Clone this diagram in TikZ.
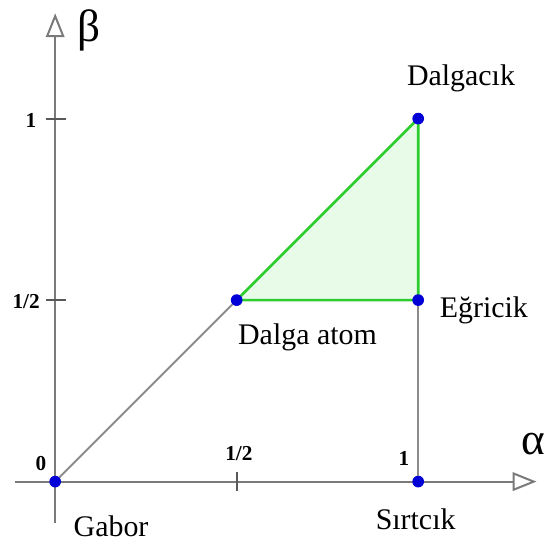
\documentclass[tikz,border=0pt]{standalone}
\usepackage{fontspec}
\setmainfont{Liberation Serif}
\usetikzlibrary{arrows.meta}

\definecolor{edgegreen}{RGB}{45,205,45}
\definecolor{fillgreen}{RGB}{232,250,232}
\definecolor{dotblue}{RGB}{0,0,215}

\begin{document}
\begin{tikzpicture}[
  x=9.6cm, y=9.6cm,
  axisline/.style={black!52, line width=1.5pt, -{Triangle[open, length=18pt, width=14pt, fill=white]}},
  tickmark/.style={black!65, line width=1.5pt},
  link/.style={black!45, line width=1.5pt},
  region/.style={draw=edgegreen, fill=fillgreen, line width=2pt, line join=round},
  num/.style={font=\fontsize{16}{19}\selectfont\bfseries},
  greek/.style={font=\fontsize{34}{40}\selectfont},
  lbl/.style={font=\fontsize{22.5}{27}\selectfont, anchor=base}
]
  \useasboundingbox (-0.152,-0.1664) rectangle (1.3576,1.3267);

  % Axes
  \draw[axisline] (-0.112,0) -- (1.326,0);
  \draw[axisline] (0,-0.113) -- (0,1.290);
  \node[greek] (alpha) at (1.318,0.104) {α};
  \node[greek] (beta) at (0.093,1.244) {β};

  % Ticks and their values
  \draw[tickmark] (-0.025,0.5) -- (0.03,0.5);
  \draw[tickmark] (-0.025,1) -- (0.03,1);
  \draw[tickmark] (0.5,-0.027) -- (0.5,0.027);
  \node[num] (y1) at (-0.067,0.994) {1};
  \node[num] (yhalf) at (-0.080,0.497) {1/2};
  \node[num] (x0) at (-0.039,0.051) {0};
  \node[num] (xhalf) at (0.506,0.076) {1/2};
  \node[num] (x1) at (0.961,0.065) {1};

  % The five families
  \coordinate (gab) at (0,0);
  \coordinate (dat) at (0.5,0.5);
  \coordinate (egr) at (1,0.5);
  \coordinate (dgc) at (1,1);
  \coordinate (srt) at (1,0);

  \filldraw[region] (dat) -- (egr) -- (dgc) -- cycle;
  \draw[link] (gab) -- (dat);
  \draw[link] (egr) -- (srt);
  \foreach \p in {gab,dat,egr,dgc,srt}
    \fill[dotblue] (\p) circle (4.4pt);

  \node[lbl] (dgcl) at (1.118,1.091) {Dalgacık};
  \node[lbl] (egrl) at (1.181,0.451) {Eğricik};
  \node[lbl] (datl) at (0.695,0.379) {Dalga atom};
  \node[lbl] (gabl) at (0.154,-0.151) {Gabor};
  \node[lbl] (srtl) at (0.993,-0.132) {Sırtcık};
\end{tikzpicture}
\end{document}
